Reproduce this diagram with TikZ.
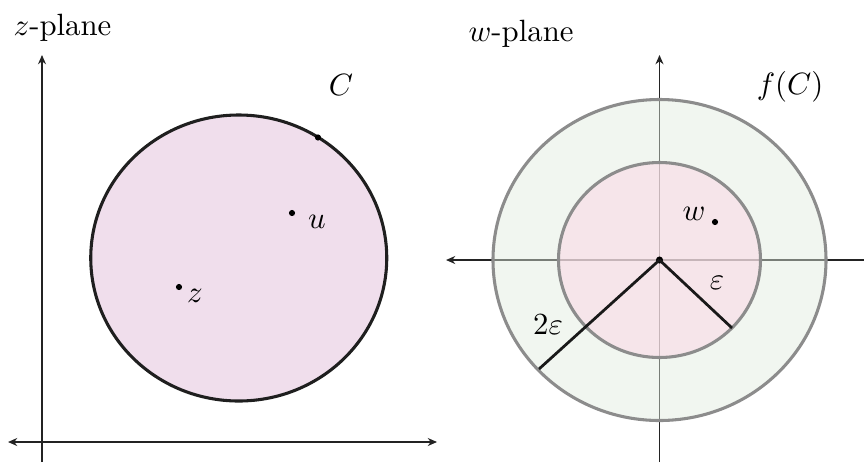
\documentclass[tikz,border=0pt]{standalone}
\usetikzlibrary{arrows.meta}
\definecolor{axiscol}{RGB}{35,35,35}
\definecolor{lavfill}{RGB}{240,222,236}
\definecolor{ringfill}{RGB}{224,235,222}
\definecolor{diskfill}{RGB}{251,219,230}
\definecolor{rimgray}{RGB}{140,140,140}
\begin{document}
\begin{tikzpicture}[x=0.325pt,y=-0.325pt,
  axis/.style={draw=axiscol,line width=0.5pt},
  tipend/.style={-{Stealth[length=3pt,width=2.6pt]}},
  tipboth/.style={{Stealth[length=3pt,width=2.6pt]}-{Stealth[length=3pt,width=2.6pt]}},
  tipstart/.style={{Stealth[length=3pt,width=2.6pt]}-},
  dotmark/.style={circle,fill=black,inner sep=0pt,minimum size=2pt},
  lbl/.style={inner sep=0pt},
  rim/.style={draw=rimgray,line width=1pt},
  radline/.style={draw=black!90,line width=0.9pt}]
\useasboundingbox (0,0) rectangle (864,462);

% ---------- z-plane ----------
\coordinate (zyb) at (42,462);
\coordinate (zyt) at (42,55);
\coordinate (zxl) at (8,442);
\coordinate (zxr) at (437,442);
\draw[axis,tipend] (zyb) -- (zyt);
\draw[axis,tipboth] (zxl) -- (zxr);

\coordinate (cz) at (238.75,258);
\filldraw[fill=lavfill,draw=black!88,line width=1pt] (cz) ellipse [x radius=148,y radius=143];

\node[dotmark] (pc) at (318,137.5) {};
\node[dotmark] (du) at (292,213) {};
\node[dotmark] (dz) at (179,287) {};
\node[lbl] (lu) at (317,222) {$u$};
\node[lbl] (lz) at (195,296) {$z$};
\node[lbl] (lC) at (341,85) {$C$};
\node[lbl,anchor=base west] (zpl) at (13,35) {$z$-plane};

% ---------- w-plane ----------
\coordinate (wxl) at (446,260);
\coordinate (wxr) at (864,260);
\coordinate (wyb) at (659.5,462);
\coordinate (wyt) at (659.5,55);
\draw[axis,tipstart] (wxl) -- (wxr);
\draw[axis,tipend] (wyb) -- (wyt);

\coordinate (cw) at (659.5,260);
\fill[ringfill,fill opacity=0.45] (cw) ellipse [x radius=166.5,y radius=160.5];
\fill[diskfill,fill opacity=0.6] (cw) ellipse [x radius=101,y radius=97.5];
\draw[rim] (cw) ellipse [x radius=166.5,y radius=160.5];
\draw[rim] (cw) ellipse [x radius=101,y radius=97.5];

\coordinate (e1) at (732,328);
\coordinate (e2) at (539,369);
\node[dotmark,minimum size=2.3pt] (wc) at (cw) {};
\draw[radline] (wc.center) -- (e1);
\draw[radline] (wc.center) -- (e2);

\node[dotmark] (dw) at (715,222) {};
\node[lbl] (lw) at (694,214) {$w$};
\node[lbl] (lfc) at (790,87) {$f(C)$};
\node[lbl] (leps) at (717,283) {$\varepsilon$};
\node[lbl] (l2eps) at (548,325) {$2\varepsilon$};
\node[lbl,anchor=base west] (wpl) at (468,41) {$w$-plane};
\end{tikzpicture}
\end{document}
